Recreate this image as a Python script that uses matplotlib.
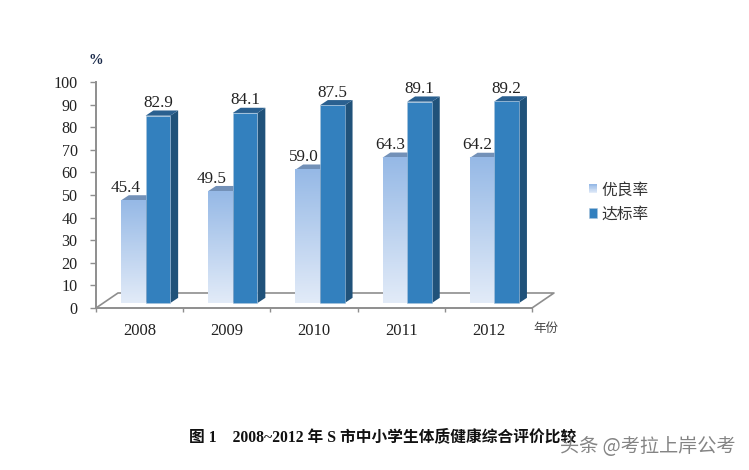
import matplotlib
matplotlib.use("Agg")
import matplotlib.pyplot as plt
import numpy as np
from matplotlib.legend_handler import HandlerBase
from matplotlib.patches import Patch, Polygon, Rectangle

# --- chart data ---
YEARS = ["2008", "2009", "2010", "2011", "2012"]
YOULIANG = [45.4, 49.5, 59.0, 64.3, 64.2]
DABIAO = [82.9, 84.1, 87.5, 89.1, 89.2]
Y_TICKS = list(range(0, 101, 10))

# --- fake 3d geometry, in data units ---
BAR_W = 0.283
BAR_DX = 0.069      # bars stand a little inside the floor
BAR_BASE = 2.2
DEPTH_X = 0.09
DEPTH_Y = 2.3
FLOOR_X = 0.252
FLOOR_Y = 6.64

# labels of the light bars sit left of the bar, by a varying amount (px)
LIGHT_SHIFT = [-8, -9, -4, -5, -5]

GRAY = "#8E8E8E"
DARK_FRONT = "#3380BE"
DARK_SIDE = "#20527A"
DARK_TOP = "#2A6090"
LIGHT_TOP_COL = np.array([150, 185, 230]) / 255
LIGHT_BOT_COL = np.array([226, 235, 248]) / 255
LIGHT_CAP = "#7391B8"
LIGHT_SIDE = "#5F7FA8"

SERIF = ["Liberation Serif", "Noto Sans CJK SC"]
CJK = ["Noto Sans CJK SC", "DejaVu Sans"]


def gradient(n=64):
    t = np.linspace(0, 1, n)[:, None, None]
    return LIGHT_TOP_COL * (1 - t) + LIGHT_BOT_COL * t


def add_depth(ax, bar, top_col, side_col):
    """Side and top faces behind one front face."""
    x0, x1 = bar.get_x(), bar.get_x() + bar.get_width()
    y0, y1 = bar.get_y(), bar.get_y() + bar.get_height()
    side = [(x1, y0), (x1 + DEPTH_X, y0 + DEPTH_Y), (x1 + DEPTH_X, y1 + DEPTH_Y), (x1, y1)]
    top = [(x0, y1), (x0 + DEPTH_X, y1 + DEPTH_Y), (x1 + DEPTH_X, y1 + DEPTH_Y), (x1, y1)]
    ax.add_patch(Polygon(side, fc=side_col, ec="none", zorder=bar.get_zorder() - 0.5))
    ax.add_patch(Polygon(top, fc=top_col, ec="none", zorder=bar.get_zorder() - 0.5))


class GradientHandler(HandlerBase):
    def create_artists(self, legend, orig, xd, yd, w, h, fontsize, trans):
        n = 12
        out = []
        for i, c in enumerate(gradient(n)[:, 0, :]):
            out.append(Rectangle((xd * -1, -yd + h * (n - 1 - i) / n), w, h / n + 0.2,
                                 fc=c, ec="none", transform=trans))
        return out


fig = plt.figure(figsize=(7.49, 4.7), dpi=100)
ax = fig.add_axes([96 / 749, (470 - 308) / 470, 436 / 749, 226 / 470])

x = np.arange(len(YEARS)) + 0.5 + BAR_DX

# floor outline goes behind the bars
floor = [(0, 0), (FLOOR_X, FLOOR_Y), (5 + FLOOR_X, FLOOR_Y), (5, 0)]
ax.plot(*zip(*floor), color=GRAY, lw=1.2, clip_on=False, zorder=1)

light = ax.bar(x - BAR_W / 2, YOULIANG, BAR_W, bottom=BAR_BASE, color="none", zorder=3)
dark = ax.bar(x + BAR_W / 2, DABIAO, BAR_W, bottom=BAR_BASE, color=DARK_FRONT,
              edgecolor="#A9C3DC", linewidth=0.4, zorder=5)

for bar in light:
    add_depth(ax, bar, LIGHT_CAP, LIGHT_SIDE)
    ax.imshow(gradient(), aspect="auto", zorder=3, clip_on=False,
              extent=(bar.get_x(), bar.get_x() + BAR_W, BAR_BASE, BAR_BASE + bar.get_height()))
for bar in dark:
    add_depth(ax, bar, DARK_TOP, DARK_SIDE)

for bar, v, shift in zip(light, YOULIANG, LIGHT_SHIFT):
    ax.annotate(f"{v:.1f}", (bar.get_x() + BAR_W / 2, BAR_BASE + v), xytext=(shift * 0.72, 9),
                textcoords="offset points", ha="center", va="center",
                family=SERIF, fontsize=12.3, color="#222222", zorder=8)
for bar, v in zip(dark, DABIAO):
    ax.annotate(f"{v:.1f}", (bar.get_x() + BAR_W / 2, BAR_BASE + v), xytext=(0, 9),
                textcoords="offset points", ha="center", va="center",
                family=SERIF, fontsize=12.3, color="#222222", zorder=8)

ax.set_xlim(0, 5)
ax.set_ylim(0, 100)
ax.set_yticks(Y_TICKS)
ax.set_yticklabels([str(t) for t in Y_TICKS], family=SERIF, fontsize=11.6, color="#222222")
ax.set_xticks(range(6))
ax.set_xticklabels([""] * 6)
ax.set_xticks(np.arange(5) + 0.5, YEARS, minor=True, family=SERIF, fontsize=12, color="#222222")
ax.tick_params(axis="x", which="major", length=3, width=1, color=GRAY)
ax.tick_params(axis="x", which="minor", length=0, pad=11)
ax.tick_params(axis="y", length=4.3, width=1, color=GRAY, pad=9)
ax.patch.set_visible(False)
for s in ["top", "right"]:
    ax.spines[s].set_visible(False)
for s in ["left", "bottom"]:
    ax.spines[s].set_color(GRAY)
    ax.spines[s].set_linewidth(1.4)

handles = [Patch(label="优良率"), Patch(fc=DARK_FRONT, ec="#A9C3DC", lw=0.4, label="达标率")]
leg = ax.legend(handles=handles, handler_map={handles[0]: GradientHandler()},
                loc="center left", bbox_to_anchor=(589 / 749, (470 - 202) / 470),
                bbox_transform=fig.transFigure, frameon=False, borderpad=0, borderaxespad=0,
                handlelength=0.52, handleheight=0.52, handletextpad=0.25, labelspacing=0.45,
                prop={"family": CJK, "size": 11.3})
for t in leg.get_texts():
    t.set_color("#333333")

fig.text(88 / 749, (470 - 61) / 470, "%", family=SERIF, weight="bold", fontsize=10.5,
         color="#1A2A4A", va="center")
fig.text(533 / 749, (470 - 328) / 470, "年份", family=CJK, fontsize=9, color="#444444", va="center")
fig.text(189 / 749, (470 - 437) / 470, "图 1    2008~2012 年 S 市中小学生体质健康综合评价比较",
         family=SERIF, weight="bold", fontsize=11.3, color="#111111", va="center")
fig.text(560 / 749, (470 - 447) / 470, "头条 @考拉上岸公考", family=CJK, fontsize=13.8,
         color="#777777", alpha=0.9, va="center")

fig.savefig("out.png", dpi=100)
